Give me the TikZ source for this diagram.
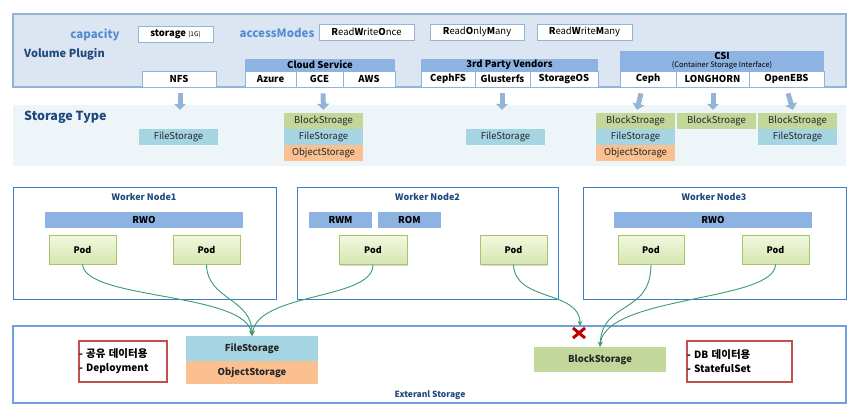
\documentclass[tikz,border=0pt]{standalone}
\usepackage{fontspec}
\setmainfont{Noto Sans CJK KR}
\newfontfamily\kr{Noto Sans CJK KR}
\usetikzlibrary{arrows.meta,shadows}
\definecolor{panel}{HTML}{DCE6F2}
\definecolor{panelline}{HTML}{95B3D7}
\definecolor{hdr}{HTML}{8DB3E2}
\definecolor{lblue}{HTML}{558ED5}
\definecolor{navy}{HTML}{1F497D}
\definecolor{stpanel}{HTML}{EEF5F9}
\definecolor{blk}{HTML}{C4D79B}
\definecolor{fil}{HTML}{A5D5E2}
\definecolor{obj}{HTML}{FAC090}
\definecolor{wnline}{HTML}{3A7DC9}
\definecolor{extline}{HTML}{6FA0DC}
\definecolor{podtop}{HTML}{F2F8DF}
\definecolor{podbot}{HTML}{D5E6B0}
\definecolor{podline}{HTML}{A9C46C}
\definecolor{conn}{HTML}{3D9970}
\definecolor{redbox}{HTML}{C0504D}
\definecolor{xred}{HTML}{C00000}
\definecolor{txt}{HTML}{262626}
\newcommand\fsz[1]{\fontsize{#1}{#1}\selectfont}
\tikzset{
  whitebox/.style={draw=panelline, fill=white, line width=0.8pt, inner sep=0pt, font=\fsz{9.5}},
  subbox/.style={draw=hdr, fill=white, line width=0.8pt, inner sep=0pt, minimum height=16pt, font=\fsz{9.5}\bfseries},
  hdrbox/.style={fill=hdr, inner sep=0pt, minimum height=12pt, font=\fsz{9.5}\bfseries},
  stlabel/.style={inner sep=0pt, minimum width=79pt, minimum height=16pt, font=\fsz{9.5}, text=txt},
  bigarrow/.style={draw=panelline, line width=5pt, -{Triangle[length=6pt,width=12pt]}},
  wn/.style={draw=wnline, fill=white, line width=0.9pt},
  wntitle/.style={font=\fsz{9}\bfseries, text=navy},
  bar/.style={fill=hdr, inner sep=0pt, minimum height=16pt, font=\fsz{9.5}\bfseries},
  pod/.style={draw=podline, top color=podtop, bottom color=podbot, line width=0.8pt, inner sep=0pt,
     minimum height=29pt, font=\fsz{9}\bfseries,
     drop shadow={shadow xshift=1pt, shadow yshift=-1.2pt, opacity=0.25, fill=black!60}},
  conn/.style={draw=conn, line width=0.9pt, -{Stealth[length=5pt,width=4.5pt]}},
  redlist/.style={draw=redbox, line width=1.6pt, fill=white, inner sep=0pt, minimum height=41pt,
     align=left, text width=#1, font=\fontsize{10}{14}\selectfont\bfseries},
  extlabel/.style={inner sep=0pt, minimum width=132pt, font=\fsz{9.5}\bfseries, text=txt},
}
\begin{document}
\begin{tikzpicture}[x=1pt,y=-1pt]
\useasboundingbox (0,0) rectangle (865,418);
% ---------- Volume plugin panel
\draw[fill=panel, draw=panelline, line width=1.2pt] (13,14) rectangle (846,87);
\node[font=\fsz{11.5}\bfseries, text=lblue] (cap) at (95,35) {capacity};
\node[whitebox, minimum width=75pt, minimum height=16pt] (stor) at (175.5,34) {\textbf{storage} {\fsz{6.5}(1G)}};
\node[font=\fsz{11.5}\bfseries, text=lblue] (am) at (277,33) {accessModes};
\node[whitebox, minimum width=95pt, minimum height=16pt] (rwo) at (366.5,32) {\textbf{R}ead\textbf{W}rite\textbf{O}nce};
\node[whitebox, minimum width=94pt, minimum height=16pt] (rom) at (477,32) {\textbf{R}ead\textbf{O}nly\textbf{M}any};
\node[whitebox, minimum width=95pt, minimum height=16pt] (rwm) at (584.5,32) {\textbf{R}ead\textbf{W}rite\textbf{M}any};
\node[anchor=west, font=\fsz{11}\bfseries, text=navy, inner sep=0pt] (vp) at (24,54) {Volume Plugin};
\node[subbox, minimum width=74pt] (nfs) at (179,79) {NFS};
\node[hdrbox, minimum width=150pt] (cloud) at (320,65) {Cloud Service};
\node[subbox, minimum width=51pt] (azure) at (270.5,79) {Azure};
\node[subbox, minimum width=47pt] (gce) at (319.5,79) {GCE};
\node[subbox, minimum width=52pt] (aws) at (369,79) {AWS};
\node[hdrbox, minimum width=177pt] (third) at (509.5,65) {3rd Party Vendors};
\node[subbox, minimum width=54pt] (cephfs) at (448,79) {CephFS};
\node[subbox, minimum width=55pt] (gluster) at (502.5,79) {Glusterfs};
\node[subbox, minimum width=68pt] (sos) at (564,79) {StorageOS};
\node[hdrbox, minimum width=204pt, minimum height=20pt, align=center] (csi) at (722,61)
   {CSI\\[-2pt]{\fsz{7.5}\mdseries (Container Storage Interface)}};
\node[subbox, minimum width=56pt] (ceph) at (648,79) {Ceph};
\node[subbox, minimum width=73pt] (lh) at (712.5,79) {LONGHORN};
\node[subbox, minimum width=75pt] (oebs) at (786.5,79) {OpenEBS};
% ---------- Storage type panel
\fill[stpanel] (13,105) rectangle (846,166);
\node[anchor=west, font=\fsz{12.5}\bfseries, text=navy, inner sep=0pt] (st) at (24,117) {Storage Type};
\node[stlabel, fill=fil] (nfsF) at (178.5,137) {FileStorage};
\node[stlabel, fill=blk] (gceB) at (323.5,121) {BlockStroage};
\node[stlabel, fill=fil] (gceF) at (323.5,137) {FileStorage};
\node[stlabel, fill=obj] (gceO) at (323.5,153) {ObjectStorage};
\node[stlabel, fill=fil] (thF) at (505.5,137) {FileStorage};
\node[stlabel, fill=blk] (cephB) at (635.5,121) {BlockStroage};
\node[stlabel, fill=fil] (cephF) at (635.5,137) {FileStorage};
\node[stlabel, fill=obj] (cephO) at (635.5,153) {ObjectStorage};
\node[stlabel, fill=blk] (lhB) at (716.5,121) {BlockStroage};
\node[stlabel, fill=blk] (oeB) at (797.5,121) {BlockStroage};
\node[stlabel, fill=fil] (oeF) at (797.5,137) {FileStorage};
% block arrows
\draw[bigarrow] ([xshift=1pt,yshift=-6pt]nfs.south) -- ([xshift=1.5pt,yshift=19pt]nfsF.north);
\draw[bigarrow] ([xshift=3.5pt,yshift=-6pt]gce.south) -- ([yshift=3pt]gceB.north);
\draw[bigarrow] ([xshift=-0.5pt,yshift=-6pt]gluster.south) -- ([xshift=-3.5pt,yshift=19pt]thF.north);
\draw[bigarrow] ([xshift=-7pt,yshift=-6pt]ceph.south) -- ([xshift=1.5pt,yshift=3pt]cephB.north);
\draw[bigarrow] ([xshift=0.5pt,yshift=-6pt]lh.south) -- ([xshift=-3.5pt,yshift=3pt]lhB.north);
\draw[bigarrow] ([xshift=1.5pt,yshift=-6pt]oebs.south) -- ([xshift=-4.5pt,yshift=3pt]oeB.north);
% ---------- Worker nodes
\draw[wn] (13,187) rectangle (276,299);
\node[wntitle] (wn1) at (144,197) {Worker Node1};
\node[bar, minimum width=198pt] (rwo1) at (144,220) {RWO};
\node[pod, minimum width=67pt] (p11) at (82.5,249.5) {Pod};
\node[pod, minimum width=67pt] (p12) at (206.5,249.5) {Pod};
\draw[wn] (297,187) rectangle (558,299);
\node[wntitle] (wn2) at (427.5,197) {Worker Node2};
\node[bar, minimum width=63pt] (rwm2) at (340.5,220) {RWM};
\node[bar, minimum width=63pt] (rom2) at (409.5,220) {ROM};
\node[pod, minimum width=68pt] (p21) at (373,250) {Pod};
\node[pod, minimum width=67pt] (p22) at (513.5,250) {Pod};
\draw[wn] (583,187) rectangle (846,299);
\node[wntitle] (wn3) at (714,197) {Worker Node3};
\node[bar, minimum width=198pt] (rwo3) at (713,220) {RWO};
\node[pod, minimum width=66pt] (p31) at (651,249.5) {Pod};
\node[pod, minimum width=67pt] (p32) at (775.5,249.5) {Pod};
% ---------- External storage
\draw[draw=extline, fill=white, line width=1.2pt] (13,326) rectangle (846,403);
\node[font=\fsz{8.5}\bfseries, text=navy] (ext) at (430,395) {Exteranl Storage};
\node[redlist=88pt] (r1) at (123,361.5) {- {\fsz{10.5}공유 데이터용}\\- Deployment};
\node[extlabel, fill=fil, minimum height=25pt] (f2) at (252,348.5) {FileStorage};
\node[extlabel, fill=obj, minimum height=23pt] (o2) at (252,372.5) {ObjectStorage};
\node[extlabel, fill=blk, minimum height=25pt] (b2) at (600,359.5) {BlockStorage};
\node[redlist=105pt] (r2) at (739.5,361.5) {- DB {\fsz{10.5}데이터용}\\- StatefulSet};
% red X
\coordinate (xc) at (579,333);
\coordinate (xtip) at (580,326);
\draw[xred, line width=3pt] ([xshift=-6pt,yshift=5pt]xc) -- ([xshift=6pt,yshift=-5pt]xc);
\draw[xred, line width=3pt] ([xshift=-6pt,yshift=-5pt]xc) -- ([xshift=6pt,yshift=5pt]xc);
% ---------- connectors
\draw[conn] (p11.south) .. controls (85,300) and (245,292) .. (f2.north);
\draw[conn] (p12.south) .. controls (207,300) and (252,298) .. (f2.north);
\draw[conn] (p21.south) .. controls (373,300) and (258,292) .. (f2.north);
\draw[conn] (p22.south) .. controls (515,302) and (580,290) .. (xtip);
\draw[conn] (p31.south) .. controls (651,315) and (602,300) .. (b2.north);
\draw[conn] (p32.south) .. controls (775,302) and (605,295) .. (b2.north);
\end{tikzpicture}
\end{document}
